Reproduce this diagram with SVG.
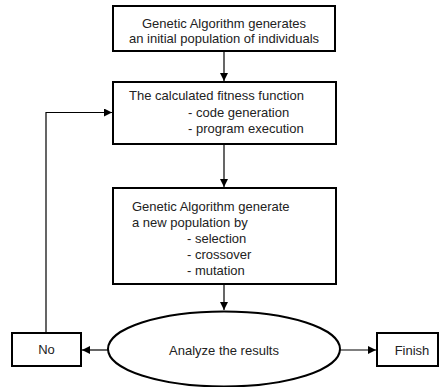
<svg xmlns="http://www.w3.org/2000/svg" width="440" height="387" viewBox="0 0 440 387">
<style>
.box{fill:#fff;stroke:#000;stroke-width:2}
.t{font-family:"Liberation Sans",Arial,sans-serif;font-size:13px;fill:#222}
.c{text-anchor:middle}
.ln{fill:none;stroke:#000;stroke-width:1.2}
</style>
<defs>
<marker id="ah" viewBox="0 0 10 10" refX="10" refY="5" markerWidth="10" markerHeight="8" markerUnits="userSpaceOnUse" orient="auto">
<path d="M0,0 L10,5 L0,10 z" fill="#000"/>
</marker>
</defs>
<g id="connectors">
<line class="ln" x1="224" y1="51" x2="224" y2="81" marker-end="url(#ah)"/>
<line class="ln" x1="224" y1="144" x2="224" y2="187" marker-end="url(#ah)"/>
<line class="ln" x1="224" y1="284" x2="224" y2="310" marker-end="url(#ah)"/>
<line class="ln" x1="108" y1="350" x2="82" y2="350" marker-end="url(#ah)"/>
<line class="ln" x1="340" y1="350" x2="376" y2="350" marker-end="url(#ah)"/>
<polyline class="ln" points="46,333 46,112.5 112,112.5" marker-end="url(#ah)"/>
</g>
<g id="n1">
<rect class="box" x="113" y="6" width="222" height="45"/>
<text class="t c" x="224" y="28">Genetic Algorithm generates</text>
<text class="t c" x="224" y="43">an initial population of individuals</text>
</g>
<g id="n2">
<rect class="box" x="113" y="82" width="223" height="62"/>
<text class="t" x="129" y="100">The calculated fitness function</text>
<text class="t" x="188" y="116.5">- code generation</text>
<text class="t" x="188" y="132.5">- program execution</text>
</g>
<g id="n3">
<rect class="box" x="113" y="188" width="223" height="96"/>
<text class="t" x="132" y="210.5">Genetic Algorithm generate</text>
<text class="t" x="132" y="226.5">a new population by</text>
<text class="t" x="187" y="242.5">- selection</text>
<text class="t" x="187" y="258.5">- crossover</text>
<text class="t" x="187" y="274.5">- mutation</text>
</g>
<g id="n4">
<ellipse class="box" cx="224" cy="349" rx="116" ry="37.5"/>
<text class="t c" x="224" y="355">Analyze the results</text>
</g>
<g id="n5">
<rect class="box" x="12" y="333" width="69" height="33"/>
<text class="t c" x="46.5" y="354">No</text>
</g>
<g id="n6">
<rect class="box" x="377" y="333" width="61" height="33"/>
<text class="t c" x="412" y="355">Finish</text>
</g>
</svg>
